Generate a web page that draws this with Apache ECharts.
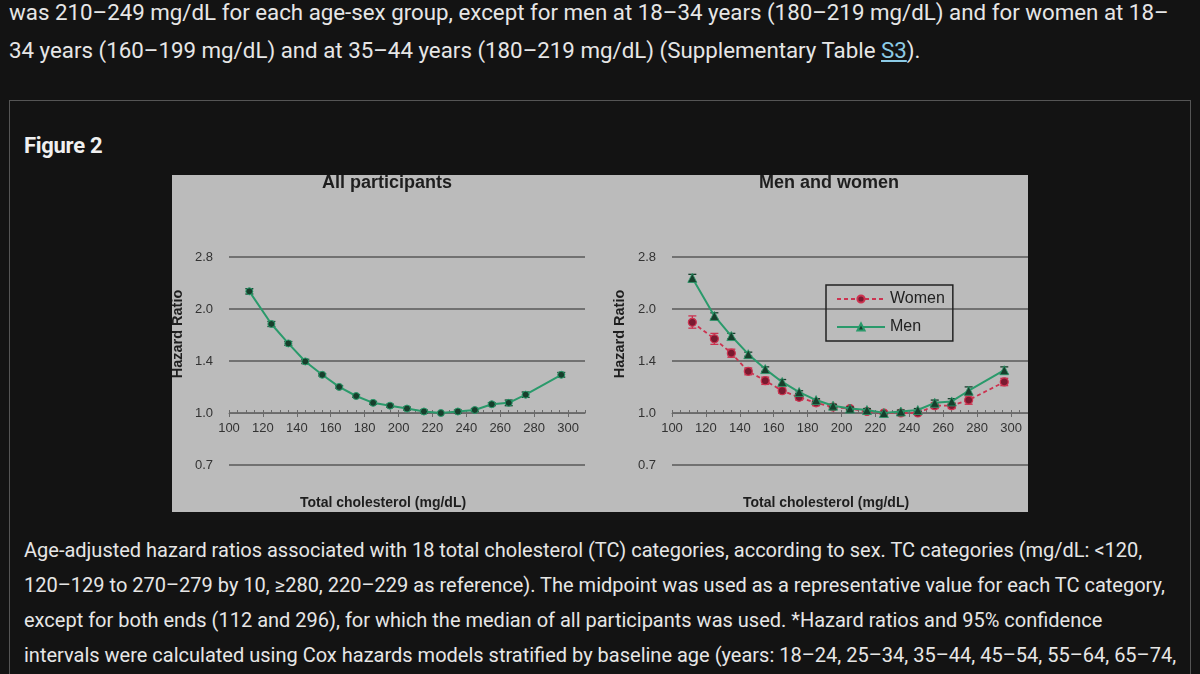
<!DOCTYPE html>
<html>
<head>
<meta charset="utf-8">
<script src="https://cdn.jsdelivr.net/npm/echarts@6/dist/echarts.min.js"></script>
<style>
  html, body { margin: 0; padding: 0; }
  body { width: 1200px; height: 674px; overflow: hidden; background: #131313; position: relative;
         font-family: Roboto, "Noto Sans", sans-serif; color: #e6e6e6; }
  .para-top { position: absolute; left: 9px; top: -7px; font-size: 22.3px; line-height: 38px; white-space: nowrap; }
  .para-bot { position: absolute; left: 24px; top: 533px; font-size: 20px; line-height: 35px; white-space: nowrap; }
  .para-top a { color: #8ccbe6; text-decoration: underline; }
  .box { position: absolute; left: 9px; top: 100px; width: 1182px; height: 620px; border: 1.5px solid #555; box-sizing: border-box; }
  .fig-title { position: absolute; left: 24px; top: 133px; font-size: 22px; font-weight: bold; color: #f0f0f0; letter-spacing: -0.3px; }
  #chart { position: absolute; left: 172px; top: 175px; width: 856px; height: 337px; background: #bbbbbb; }
</style>
</head>
<body>
<div class="para-top">was 210–249 mg/dL for each age-sex group, except for men at 18–34 years (180–219 mg/dL) and for women at 18–<br>34 years (160–199 mg/dL) and at 35–44 years (180–219 mg/dL) (Supplementary Table <a>S3</a>).</div>
<div class="box"></div>
<div class="fig-title">Figure 2</div>
<div id="chart"></div>
<div class="para-bot">Age-adjusted hazard ratios associated with 18 total cholesterol (TC) categories, according to sex. TC categories (mg/dL: &lt;120,<br>120–129 to 270–279 by 10, ≥280, 220–229 as reference). The midpoint was used as a representative value for each TC category,<br>except for both ends (112 and 296), for which the median of all participants was used. *Hazard ratios and 95% confidence<br>intervals were calculated using Cox hazards models stratified by baseline age (years: 18–24, 25–34, 35–44, 45–54, 55–64, 65–74,</div>
<script>
// TC category representative values (mg/dL)
var tcMid = [112, 125, 135, 145, 155, 165, 175, 185, 195, 205, 215, 225, 235, 245, 255, 265, 275, 296];

// All participants
var allHR   = [2.25, 1.81, 1.59, 1.41, 1.29, 1.19, 1.12, 1.07, 1.05, 1.03, 1.01, 1.00, 1.01, 1.02, 1.06, 1.07, 1.13, 1.29];
var allLow  = [2.21, 1.78, 1.57, 1.39, 1.28, 1.18, 1.11, 1.06, 1.04, 1.02, 1.00, 1.00, 1.00, 1.01, 1.05, 1.05, 1.11, 1.27];
var allHigh = [2.29, 1.84, 1.61, 1.43, 1.30, 1.20, 1.13, 1.08, 1.06, 1.04, 1.02, 1.00, 1.02, 1.03, 1.07, 1.09, 1.15, 1.31];

// Men
var menHR   = [2.46, 1.91, 1.67, 1.48, 1.34, 1.23, 1.15, 1.09, 1.05, 1.03, 1.02, 1.00, 1.01, 1.02, 1.07, 1.08, 1.16, 1.33];
var menLow  = [2.40, 1.87, 1.64, 1.46, 1.32, 1.21, 1.14, 1.08, 1.04, 1.02, 1.01, 1.00, 1.00, 1.01, 1.05, 1.06, 1.13, 1.30];
var menHigh = [2.52, 1.95, 1.70, 1.50, 1.36, 1.25, 1.16, 1.10, 1.06, 1.04, 1.03, 1.00, 1.02, 1.03, 1.09, 1.10, 1.19, 1.36];

// Women
var womenHR   = [1.83, 1.64, 1.49, 1.32, 1.24, 1.16, 1.11, 1.07, 1.04, 1.03, 1.01, 1.00, 1.00, 1.00, 1.05, 1.05, 1.09, 1.23];
var womenLow  = [1.76, 1.58, 1.45, 1.29, 1.21, 1.14, 1.09, 1.05, 1.03, 1.02, 1.00, 1.00, 0.99, 0.99, 1.03, 1.03, 1.06, 1.20];
var womenHigh = [1.91, 1.70, 1.53, 1.35, 1.27, 1.18, 1.13, 1.09, 1.05, 1.04, 1.02, 1.00, 1.01, 1.01, 1.07, 1.07, 1.12, 1.26];

var xTitle = 'Total cholesterol (mg/dL)';
var yTitle = 'Hazard Ratio';

var GREEN = '#2a9a6b', GREEN_DARK = '#173f2c';
var RED = '#cc3350', RED_DARK = '#7a1a30';
var AX_FONT = '"Liberation Sans", Arial, sans-serif';

function pairs(xs, ys) {
  return xs.map(function (x, i) { return [x, ys[i]]; });
}
function triples(xs, lo, hi) {
  return xs.map(function (x, i) { return [x, lo[i], hi[i]]; });
}

// 95% CI whiskers, placed through the axes
function errorBars(color) {
  return function (params, api) {
    var x = api.value(0);
    var lo = api.coord([x, api.value(1)]);
    var hi = api.coord([x, api.value(2)]);
    var w = 4;
    var st = { stroke: color, lineWidth: 1.3 };
    return {
      type: 'group',
      children: [
        { type: 'line', shape: { x1: lo[0], y1: lo[1], x2: hi[0], y2: hi[1] }, style: st },
        { type: 'line', shape: { x1: lo[0] - w, y1: lo[1], x2: lo[0] + w, y2: lo[1] }, style: st },
        { type: 'line', shape: { x1: hi[0] - w, y1: hi[1], x2: hi[0] + w, y2: hi[1] }, style: st }
      ]
    };
  };
}

function xAxes(gridIndex) {
  return [
    {
      type: 'value', gridIndex: gridIndex, position: 'bottom', offset: -52,
      min: 100, max: 310, interval: 20,
      axisLine: { show: true, lineStyle: { color: '#6a6a6a', width: 1 } },
      axisTick: { show: true, length: 4, lineStyle: { color: '#6a6a6a' } },
      axisLabel: { color: '#333', fontSize: 13, fontFamily: AX_FONT, margin: 9, showMaxLabel: false },
      splitLine: { show: false }
    },
    {
      type: 'value', gridIndex: gridIndex, position: 'bottom', offset: -52,
      min: 100, max: 310, interval: 5,
      axisLine: { show: false },
      axisTick: { show: true, inside: true, length: 3, lineStyle: { color: '#6a6a6a' } },
      axisLabel: { show: false },
      splitLine: { show: false }
    }
  ];
}

function yAxis(gridIndex) {
  return {
    type: 'log', gridIndex: gridIndex, logBase: Math.SQRT2,
    min: Math.SQRT1_2, max: 2 * Math.SQRT2, splitNumber: 4,
    axisLine: { show: false }, axisTick: { show: false },
    axisLabel: {
      color: '#333', fontSize: 13, fontFamily: AX_FONT, margin: 16,
      formatter: function (v) { return v.toFixed(1); }
    },
    splitLine: { show: true, lineStyle: { color: '#595959', width: 1.5 } }
  };
}

var titleStyle = { fontSize: 18, fontWeight: 'bold', color: '#1e1e1e', fontFamily: AX_FONT };
var xNameStyle = { fontSize: 14, fontWeight: 'bold', color: '#1e1e1e', fontFamily: AX_FONT };

var myChart = echarts.init(document.getElementById('chart'));

var option = {
  animation: false,
  backgroundColor: '#bbbbbb',
  title: [
    { text: 'All participants', left: 215, top: -1, textAlign: 'center', padding: 0, textStyle: titleStyle },
    { text: 'Men and women', left: 657, top: -1, textAlign: 'center', padding: 0, textStyle: titleStyle },
    { text: xTitle, left: 211, top: 321, textAlign: 'center', padding: 0, textStyle: xNameStyle },
    { text: xTitle, left: 654, top: 321, textAlign: 'center', padding: 0, textStyle: xNameStyle }
  ],
  graphic: [
    { type: 'text', x: 6, y: 159, rotation: Math.PI / 2,
      style: { text: yTitle, fill: '#1e1e1e', font: 'bold 14.5px ' + AX_FONT, align: 'center', verticalAlign: 'middle' } },
    { type: 'text', x: 448, y: 159, rotation: Math.PI / 2,
      style: { text: yTitle, fill: '#1e1e1e', font: 'bold 14.5px ' + AX_FONT, align: 'center', verticalAlign: 'middle' } }
  ],
  legend: {
    data: ['Women', 'Men'],
    orient: 'vertical', left: 654, top: 110,
    itemWidth: 48, itemHeight: 9, itemGap: 12,
    padding: [6, 8, 6, 10],
    borderColor: '#222', borderWidth: 1.5, borderRadius: 0,
    backgroundColor: 'rgba(0,0,0,0)',
    textStyle: { color: '#222', fontSize: 16, fontFamily: AX_FONT }
  },
  grid: [
    { left: 57, top: 82, width: 356, height: 208, outerBoundsMode: 'none' },
    { left: 500, top: 82, width: 356, height: 208, outerBoundsMode: 'none' }
  ],
  xAxis: xAxes(0).concat(xAxes(1)),
  yAxis: [yAxis(0), yAxis(1)],
  series: [
    {
      type: 'custom', xAxisIndex: 0, yAxisIndex: 0, z: 3,
      renderItem: errorBars(GREEN_DARK),
      encode: { x: 0, y: [1, 2] },
      data: triples(tcMid, allLow, allHigh)
    },
    {
      name: 'All participants', type: 'line', xAxisIndex: 0, yAxisIndex: 0, z: 4,
      data: pairs(tcMid, allHR),
      symbol: 'circle', symbolSize: 7,
      lineStyle: { color: GREEN, width: 2 },
      itemStyle: { color: GREEN_DARK, borderColor: GREEN, borderWidth: 1 }
    },
    {
      type: 'custom', xAxisIndex: 2, yAxisIndex: 1, z: 3,
      renderItem: errorBars(RED),
      encode: { x: 0, y: [1, 2] },
      data: triples(tcMid, womenLow, womenHigh)
    },
    {
      name: 'Women', type: 'line', xAxisIndex: 2, yAxisIndex: 1, z: 4,
      data: pairs(tcMid, womenHR),
      symbol: 'circle', symbolSize: 8,
      lineStyle: { color: RED, width: 1.8, type: [4, 3] },
      itemStyle: { color: RED_DARK, borderColor: RED, borderWidth: 1.2 }
    },
    {
      type: 'custom', xAxisIndex: 2, yAxisIndex: 1, z: 5,
      renderItem: errorBars(GREEN_DARK),
      encode: { x: 0, y: [1, 2] },
      data: triples(tcMid, menLow, menHigh)
    },
    {
      name: 'Men', type: 'line', xAxisIndex: 2, yAxisIndex: 1, z: 6,
      data: pairs(tcMid, menHR),
      symbol: 'triangle', symbolSize: 9,
      lineStyle: { color: GREEN, width: 2 },
      itemStyle: { color: GREEN_DARK, borderColor: GREEN, borderWidth: 0.8 }
    }
  ]
};

myChart.setOption(option);
</script>
</body>
</html>
